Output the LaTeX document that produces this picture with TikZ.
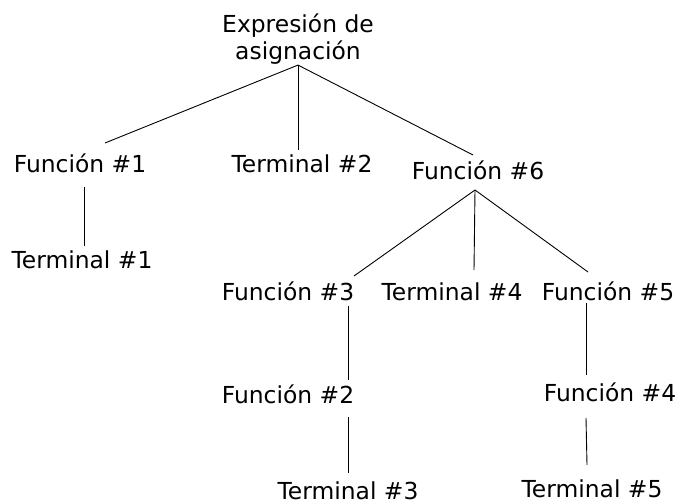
\documentclass[tikz,border=0pt]{standalone}
\usepackage{fontspec}
\setmainfont{DejaVu Sans}
\usepackage{tikz}

\begin{document}
\begin{tikzpicture}[x=1bp, y=-1bp,
    font=\fontsize{23.4bp}{27bp}\selectfont,
    lbl/.style={anchor=base, inner sep=0pt, align=center},
    edge/.style={line width=0.9bp}]
  \useasboundingbox (0,0) rectangle (679,504);
  % Nodes
  \node[lbl] (root) at (298,60) {Expresión de\\asignación};
  \node[lbl] (f1) at (80,173) {Función \#1};
  \node[lbl] (t2) at (302,173) {Terminal \#2};
  \node[lbl] (f6) at (478,180) {Función \#6};
  \node[lbl] (t1) at (82,269) {Terminal \#1};
  \node[lbl] (f3) at (288,300) {Función \#3};
  \node[lbl] (t4) at (452,300) {Terminal \#4};
  \node[lbl] (f5) at (608,300) {Función \#5};
  \node[lbl] (f2) at (288,403) {Función \#2};
  \node[lbl] (f4) at (610,401) {Función \#4};
  \node[lbl] (t3) at (348,499) {Terminal \#3};
  \node[lbl] (t5) at (592,497) {Terminal \#5};

  % Edges
  \draw[edge] (root.south) -- ([shift={(25,-30)}]f1.base);
  \draw[edge] (root.south) -- ([shift={(-4,-23)}]t2.base);
  \draw[edge] (root.south) -- ([shift={(-5,-25)}]f6.base);
  \draw[edge] ([shift={(4,14)}]f1.base) -- ([shift={(2,-23)}]t1.base);
  \draw[edge] ([shift={(-3,10)}]f6.base) -- ([shift={(66,-24)}]f3.base);
  \draw[edge] ([shift={(-3,10)}]f6.base) -- ([shift={(22,-30)}]t4.base);
  \draw[edge] ([shift={(-3,10)}]f6.base) -- ([shift={(-20,-28)}]f5.base);
  \draw[edge] ([shift={(60,6)}]f3.base) -- ([shift={(60,-23)}]f2.base);
  \draw[edge] ([shift={(60,14)}]f2.base) -- ([shift={(0,-26)}]t3.base);
  \draw[edge] ([shift={(-22,3)}]f5.base) -- ([shift={(-24,-26)}]f4.base);
  \draw[edge] ([shift={(-24,17)}]f4.base) -- ([shift={(-5,-32)}]t5.base);
\end{tikzpicture}
\end{document}
